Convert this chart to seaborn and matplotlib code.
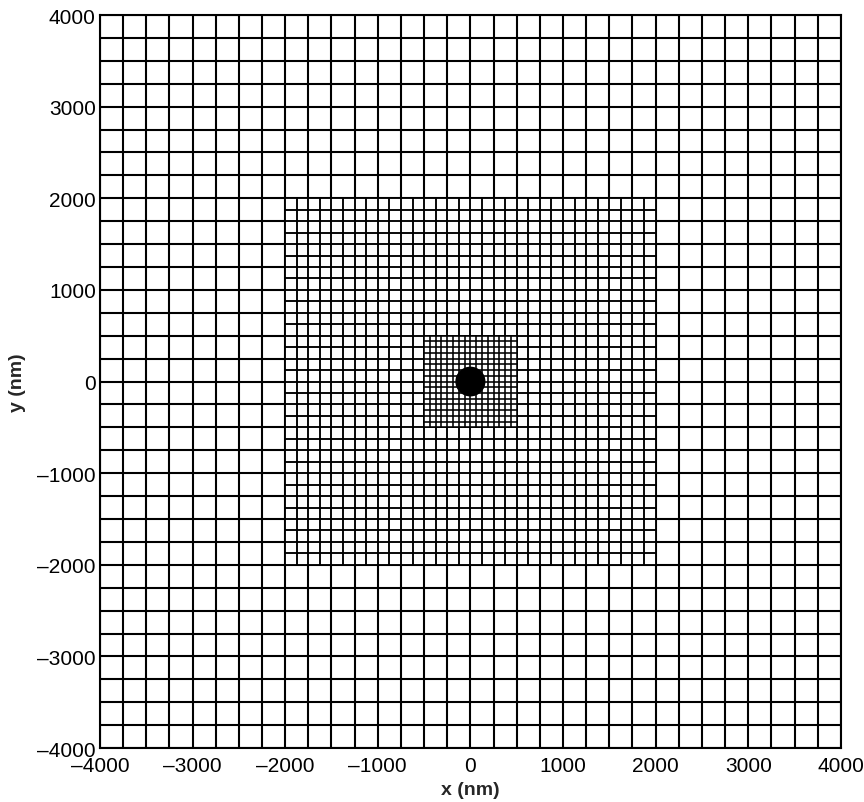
import numpy as np
import pandas as pd
import matplotlib
matplotlib.use("Agg")
import matplotlib.pyplot as plt
from matplotlib.patches import Circle, Rectangle
import seaborn as sns

# Mesh regions (square boxes centred on origin): half-width and cell size in nm
region_names = ["outer", "middle", "inner"]
region_half = [4000, 2000, 500]
region_step = [250, 125, 62.5]
region_lw = [1.5, 1.35, 1.15]

# Particle at the origin
particle_x = [0]
particle_y = [0]
particle_r = [155]

ticks = [-4000, -3000, -2000, -1000, 0, 1000, 2000, 3000, 4000]
tick_labels = ["\u20134000", "\u20133000", "\u20132000", "\u20131000", "0",
               "1000", "2000", "3000", "4000"]

sns.set_theme(style="white")
plt.rcParams["font.family"] = ["Liberation Sans", "DejaVu Sans"]

fig = plt.figure(figsize=(8.64, 8.03), dpi=100)
ax = fig.add_axes([0.1157, 0.0672, 0.8575, 0.9128])


def mesh_frame(name, half, step):
    pos = np.arange(-half, half + step / 2, step)
    rows = []
    k = 0
    for p in pos:
        rows.append((p, -half, k)); rows.append((p, half, k)); k += 1
        rows.append((-half, p, k)); rows.append((half, p, k)); k += 1
    df = pd.DataFrame(rows, columns=["x", "y", "seg"])
    df["region"] = name
    return df


for i, (name, half, step, lw) in enumerate(zip(region_names, region_half,
                                                region_step, region_lw)):
    z = 1 + i
    if i > 0:
        # blank out the coarser mesh inside this refined box
        ax.add_patch(Rectangle((-half, -half), 2 * half, 2 * half,
                               facecolor="white", edgecolor="none", zorder=z - 0.5))
    d = mesh_frame(name, half, step)
    sns.lineplot(data=d, x="x", y="y", units="seg", estimator=None, sort=False,
                 color="black", linewidth=lw, ax=ax, legend=False, zorder=z)

for cx, cy, r in zip(particle_x, particle_y, particle_r):
    ax.add_patch(Circle((cx, cy), r, facecolor="black", edgecolor="black", zorder=5))

ax.set_xlim(-4000, 4000)
ax.set_ylim(-4000, 4000)
ax.set_xticks(ticks)
ax.set_xticklabels(tick_labels)
ax.set_yticks(ticks)
ax.set_yticklabels(tick_labels)
ax.tick_params(axis="x", length=0, pad=6, labelsize=15, labelcolor="black")
ax.tick_params(axis="y", length=0, pad=3, labelsize=15, labelcolor="black")
ax.set_xlabel("x (nm)", fontsize=14, fontweight="bold", labelpad=4)
ax.set_ylabel("y (nm)", fontsize=14, fontweight="bold", labelpad=8)
for s in ax.spines.values():
    s.set_color("black")
    s.set_linewidth(1.5)
    s.set_zorder(6)

fig.savefig("out.png", dpi=100)
